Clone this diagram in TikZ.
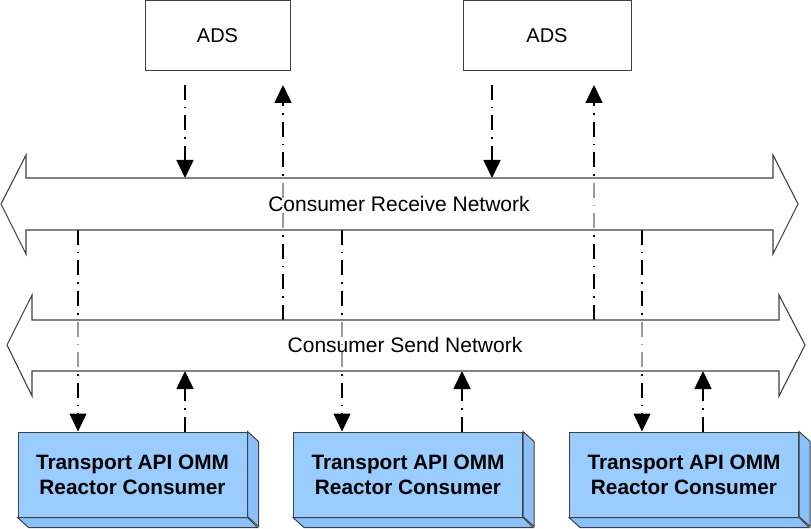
\documentclass[tikz,border=0pt]{standalone}
\usepackage{fontspec}
\setmainfont{Liberation Sans}
\usetikzlibrary{arrows.meta}

\definecolor{edgegray}{RGB}{64,64,64}
\definecolor{consblue}{RGB}{153,204,255}
\definecolor{sideblue}{RGB}{140,192,250}

\begin{document}
\begin{tikzpicture}[x=1pt,y=-1pt,
    adsbox/.style={draw=edgegray, line width=1pt, fill=white, minimum width=#1,
      minimum height=70pt, inner sep=0pt, font=\fontsize{20}{24}\selectfont},
    consbox/.style={draw=edgegray, line width=1pt, fill=consblue, minimum width=229pt,
      minimum height=85pt, inner sep=0pt, align=center,
      font=\bfseries\fontsize{20.8}{25}\selectfont},
    netshape/.style={draw=edgegray, line width=1.1pt, fill=white, fill opacity=0.6},
    flow/.style={line width=1.6pt, dash pattern=on 15pt off 7pt on 1.5pt off 7pt,
      -{Triangle[width=17pt,length=18pt]}}
  ]
    \useasboundingbox (0,0) rectangle (811,529);

    % Define the ADS and consumer nodes
    \node[adsbox=145pt] (ads1) at (217.5,36) {ADS};
    \node[adsbox=168pt] (ads2) at (547,36) {ADS};
    \node[consbox] (cons1) at (132.5,474.5) {Transport API OMM\\Reactor Consumer};
    \node[consbox] (cons2) at (408,474.5) {Transport API OMM\\Reactor Consumer};
    \node[consbox] (cons3) at (684,474.5) {Transport API OMM\\Reactor Consumer};

    % Draw the depth of the consumer boxes
    \foreach \c in {cons1,cons2,cons3} {
      \filldraw[fill=sideblue, draw=edgegray, line width=1pt]
        (\c.north east) -- ++(11,10) -- ++(0,85) -- ++(-11,-10) -- cycle;
      \filldraw[fill=sideblue, draw=edgegray, line width=1pt]
        (\c.south west) -- ++(11,10) -- ++(229,0) -- (\c.south east) -- cycle;
    }

    % Define coordinates for the connector ends
    \coordinate (A1) at (185,85);
    \coordinate (A2) at (283,85);
    \coordinate (A3) at (492,85);
    \coordinate (A4) at (594,85);
    \coordinate (R1) at (185,178);
    \coordinate (R2) at (492,178);
    \coordinate (R3) at (78,230);
    \coordinate (R4) at (342,230);
    \coordinate (R5) at (642,230);
    \coordinate (S1) at (283,320);
    \coordinate (S2) at (594,320);
    \coordinate (S3) at (185,371);
    \coordinate (S4) at (462,371);
    \coordinate (S5) at (703,371);

    % Draw the connectors
    \draw[flow] (A1) -- (R1);
    \draw[flow] (A3) -- (R2);
    \draw[flow] (S1) -- (A2);
    \draw[flow] (S2) -- (A4);
    \draw[flow] (R3) -- (R3 |- cons1.north);
    \draw[flow] (R4) -- (R4 |- cons2.north);
    \draw[flow] (R5) -- (R5 |- cons3.north);
    \draw[flow] (S3 |- cons1.north) -- (S3);
    \draw[flow] (S4 |- cons2.north) -- (S4);
    \draw[flow] (S5 |- cons3.north) -- (S5);

    % Draw the two networks
    \filldraw[netshape] (1,204) -- (26,155) -- (26,178) -- (773,178) -- (773,155)
      -- (798,204) -- (773,254) -- (773,230) -- (26,230) -- (26,254) -- cycle;
    \filldraw[netshape] (7,345) -- (32,295) -- (32,320) -- (779,320) -- (779,295)
      -- (805,345) -- (779,396) -- (779,371) -- (32,371) -- (32,396) -- cycle;

    % Add network labels
    \node[font=\fontsize{21}{24}\selectfont] (recv) at (399,204) {Consumer Receive Network};
    \node[font=\fontsize{21}{24}\selectfont] (send) at (405,345) {Consumer Send Network};

\end{tikzpicture}
\end{document}
